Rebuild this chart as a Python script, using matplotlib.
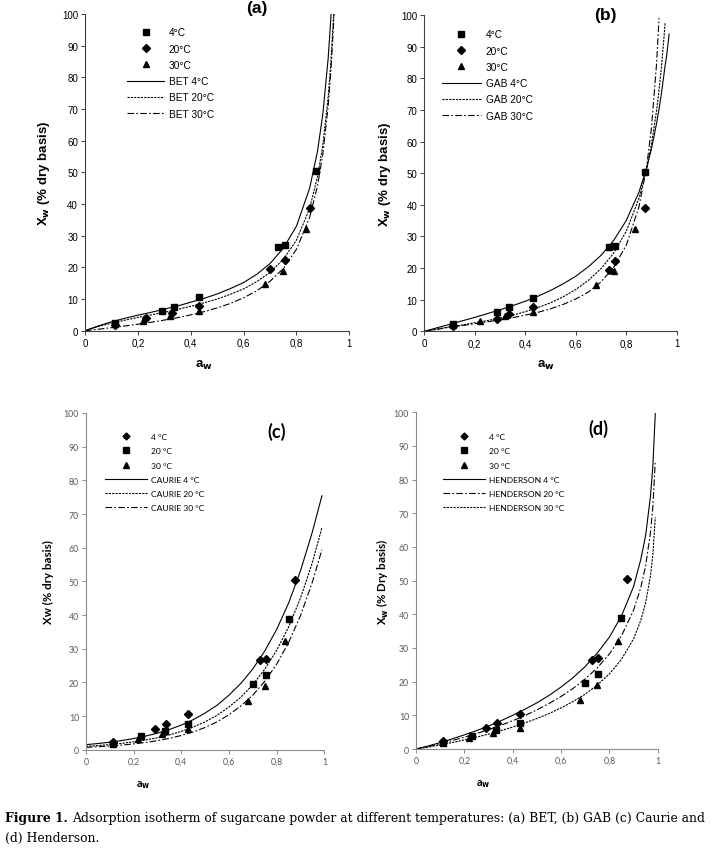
import matplotlib

matplotlib.use("Agg")
import matplotlib.pyplot as plt
from matplotlib.lines import Line2D

# ---- measured points (aw, Xw % dry basis) ----
aw_4 = [0.113, 0.29, 0.335, 0.43, 0.73, 0.755, 0.875]
xw_4 = [2.3, 6.1, 7.6, 10.5, 26.5, 27.0, 50.5]
aw_20 = [0.113, 0.23, 0.33, 0.43, 0.70, 0.755, 0.85]
xw_20 = [1.8, 4.0, 5.5, 7.7, 19.5, 22.2, 38.9]
aw_30 = [0.113, 0.22, 0.32, 0.43, 0.68, 0.75, 0.835]
xw_30 = [2.0, 3.2, 4.7, 6.2, 14.6, 19.0, 32.2]
# panel (b) shows the 20 C points at slightly different aw
aw_20b = [0.113, 0.29, 0.335, 0.43, 0.73, 0.755, 0.875]

# ---- model curves ----
aw_bet = [0, .05, .1, .15, .2, .25, .3, .35, .4, .45, .5, .55, .6, .65, .7, .75, .8, .85, .88, .9, .92, .93, .94, .945]
bet_4 = [0, 1.5, 2.8, 3.9, 4.9, 5.8, 6.8, 7.8, 9.0, 10.2, 11.6, 13.3, 15.2, 17.8, 21.2, 26.0, 33.0, 45.0, 56.8, 68.5, 86.0, 98.5, 115, 126]
bet_20 = [0, 1.3, 2.4, 3.3, 4.2, 5.0, 5.8, 6.7, 7.7, 8.8, 10.0, 11.5, 13.2, 15.5, 18.4, 22.5, 28.6, 38.6, 48.7, 58.7, 73.7, 84.4, 98.7, 108]
bet_30 = [0, 0.46, 0.95, 1.48, 2.05, 2.67, 3.35, 4.12, 5.0, 6.0, 7.2, 8.6, 10.4, 12.6, 15.6, 19.6, 25.7, 35.8, 45.8, 55.9, 70.9, 81.6, 95.9, 105]

aw_gab = [0, .05, .1, .15, .2, .25, .3, .35, .4, .45, .5, .55, .6, .65, .7, .75, .8, .85, .88, .9, .92, .93, .94, .95, .954, .96, .97]
gab_4 = [0, 1.1, 2.2, 3.3, 4.4, 5.6, 6.8, 8.1, 9.5, 11.1, 12.9, 15.0, 17.4, 20.4, 24.0, 28.7, 35.0, 43.9, 51.4, 57.7, 65.6, 70.3, 75.5, 81.5, 84.0, 87.0, 94.0]
gab_20 = [0, 0.7, 1.4, 2.0, 2.7, 3.4, 4.2, 5.1, 6.2, 7.5, 9.0, 10.9, 13.2, 16.1, 19.8, 24.7, 31.6, 41.9, 51.0, 59.1, 69.6, 76.3, 84.0, 93.2, 97.5, None, None]
gab_30 = [0, 0.6, 1.3, 1.8, 2.4, 3.0, 3.6, 4.3, 5.1, 6.0, 7.1, 8.5, 10.2, 12.4, 15.6, 20.2, 27.2, 39.2, 51.5, 64.3, 84.3, 99.1, None, None, None, None, None]

aw_cau = [0, .05, .1, .15, .2, .25, .3, .35, .4, .45, .5, .55, .6, .65, .7, .75, .8, .85, .9, .95, .99]
cau_4 = [1.5, 1.83, 2.23, 2.72, 3.31, 4.04, 4.92, 6.0, 7.31, 8.91, 10.9, 13.2, 16.2, 19.7, 24.0, 29.3, 35.7, 43.5, 53.1, 64.7, 75.4]
cau_20 = [1.0, 1.24, 1.53, 1.89, 2.33, 2.88, 3.56, 4.40, 5.43, 6.71, 8.29, 10.2, 12.7, 15.6, 19.3, 23.9, 29.5, 36.4, 45.0, 55.6, 65.9]
cau_30 = [0.7, 0.88, 1.10, 1.37, 1.72, 2.15, 2.69, 3.37, 4.22, 5.28, 6.61, 8.27, 10.4, 13.0, 16.2, 20.3, 25.4, 31.8, 39.8, 49.8, 59.4]

aw_hen = [0, .05, .1, .15, .2, .25, .3, .35, .4, .45, .5, .55, .6, .65, .7, .75, .8, .85, .9, .93, .95, .97, .98, .99]
hen_4 = [0, 0.9, 1.9, 3.0, 4.2, 5.45, 6.8, 8.35, 10.0, 11.8, 13.7, 15.9, 18.4, 21.2, 24.5, 28.5, 33.2, 39.5, 48.2, 56.3, 63.4, 75.0, 84.1, 99.6]
hen_20 = [0, 0.74, 1.58, 2.50, 3.50, 4.58, 5.74, 7.01, 8.39, 9.91, 11.6, 13.5, 15.6, 18.0, 20.8, 24.1, 28.2, 33.6, 41.2, 47.9, 54.4, 64.2, 72.0, 85.6]
hen_30 = [0, 0.55, 1.20, 1.91, 2.68, 3.52, 4.43, 5.43, 6.52, 7.72, 9.04, 10.5, 12.2, 14.1, 16.3, 19.0, 22.3, 26.6, 32.7, 38.2, 43.4, 51.4, 57.8, 68.8]

xticks = [0, 0.2, 0.4, 0.6, 0.8, 1.0]
xtick_labels = ["0", "0,2", "0,4", "0,6", "0,8", "1"]
yticks = list(range(0, 101, 10))

SOLID = "-"
DOTTED = (0, (2, 1))
DASHDOT = (0, (6, 2, 1.5, 2))
W, H = 716, 853


def rect(left, top, right, bottom):
    return [left / W, 1 - bottom / H, (right - left) / W, (bottom - top) / H]


def clean(xs, ys):
    pairs = [(x, y) for x, y in zip(xs, ys) if y is not None]
    return [p[0] for p in pairs], [p[1] for p in pairs]


def panel(fig, box, font, tick_color, spine_color, tick_size):
    ax = fig.add_axes(box)
    ax.set_xlim(0, 1)
    ax.set_ylim(0, 100)
    for s in ("top", "right"):
        ax.spines[s].set_visible(False)
    for s in ("left", "bottom"):
        ax.spines[s].set_color(spine_color)
        ax.spines[s].set_linewidth(0.8)
    ax.set_xticks(xticks)
    ax.set_xticklabels(xtick_labels)
    ax.set_yticks(yticks)
    ax.tick_params(direction="out", length=3, width=0.7, color=spine_color,
                   labelsize=tick_size, labelcolor=tick_color, pad=2)
    for lab in ax.get_xticklabels() + ax.get_yticklabels():
        lab.set_fontfamily(font)
    return ax


fig = plt.figure(figsize=(W / 100, H / 100), dpi=100)

# ---------------- (a) BET ----------------
ax = panel(fig, rect(85, 15, 349.3, 331.7), "Liberation Sans", "black", "#404040", 7)
ax.plot(aw_bet, bet_4, color="black", lw=0.8, ls=SOLID)
ax.plot(aw_bet, bet_20, color="black", lw=0.8, ls=DOTTED)
ax.plot(aw_bet, bet_30, color="black", lw=0.8, ls=DASHDOT)
ax.plot(aw_4, xw_4, "s", color="black", ms=4.5, ls="none")
ax.plot(aw_20, xw_20, "D", color="black", ms=3.8, ls="none")
ax.plot(aw_30, xw_30, "^", color="black", ms=4.5, ls="none")
ax.set_xlabel("a$_\\mathbf{w}$", fontsize=9.5, fontweight="bold", family="Liberation Sans")
ax.set_ylabel("X$_\\mathbf{w}$ (% dry basis)", fontsize=9.5, fontweight="bold", family="Liberation Sans")
ax.yaxis.set_label_coords(-0.125, 0.5)
ax.xaxis.set_label_coords(0.45, -0.085)
ax.text(0.65, 102.0, "(a)", fontsize=12.5, fontweight="bold", family="Liberation Sans",
        ha="center", va="center", clip_on=False)
handles = [
    Line2D([], [], marker="s", color="black", ms=4.5, ls="none"),
    Line2D([], [], marker="D", color="black", ms=3.8, ls="none"),
    Line2D([], [], marker="^", color="black", ms=4.5, ls="none"),
    Line2D([], [], color="black", lw=0.8, ls=SOLID),
    Line2D([], [], color="black", lw=0.8, ls=DOTTED),
    Line2D([], [], color="black", lw=0.8, ls=DASHDOT),
]
ax.legend(handles, ["4°C", "20°C", "30°C", "BET 4°C", "BET 20°C", "BET 30°C"],
          loc="upper left", bbox_to_anchor=(0.158, 0.958), frameon=False,
          borderpad=0, borderaxespad=0, handlelength=3.7, handletextpad=0.45,
          labelspacing=0.62, prop={"family": "Liberation Sans", "size": 7.3})

# ---------------- (b) GAB ----------------
ax = panel(fig, rect(424.3, 16, 676.7, 332.3), "Liberation Sans", "black", "#404040", 7)
ax.plot(*clean(aw_gab, gab_4), color="black", lw=0.8, ls=SOLID)
ax.plot(*clean(aw_gab, gab_20), color="black", lw=0.8, ls=DOTTED)
ax.plot(*clean(aw_gab, gab_30), color="black", lw=0.8, ls=DASHDOT)
ax.plot(aw_4, xw_4, "s", color="black", ms=4.5, ls="none")
ax.plot(aw_20b, xw_20, "D", color="black", ms=3.8, ls="none")
ax.plot(aw_30, xw_30, "^", color="black", ms=4.5, ls="none")
ax.set_xlabel("a$_\\mathbf{w}$", fontsize=9.5, fontweight="bold", family="Liberation Sans")
ax.set_ylabel("X$_\\mathbf{w}$ (% dry basis)", fontsize=9.5, fontweight="bold", family="Liberation Sans")
ax.yaxis.set_label_coords(-0.125, 0.5)
ax.xaxis.set_label_coords(0.48, -0.085)
ax.text(0.716, 100.3, "(b)", fontsize=12.5, fontweight="bold", family="Liberation Sans",
        ha="center", va="center", clip_on=False)
ax.legend(handles, ["4°C", "20°C", "30°C", "GAB 4°C", "GAB 20°C", "GAB 30°C"],
          loc="upper left", bbox_to_anchor=(0.069, 0.955), frameon=False,
          borderpad=0, borderaxespad=0, handlelength=3.9, handletextpad=0.45,
          labelspacing=0.62, prop={"family": "Liberation Sans", "size": 7.3})

# ---------------- (c) Caurie ----------------
grey = "#595959"
ax = panel(fig, rect(86, 414, 324.3, 750.7), "Lato", grey, "#8c8c8c", 6.3)
ax.plot(aw_cau, cau_4, color="black", lw=0.8, ls=SOLID)
ax.plot(aw_cau, cau_20, color="black", lw=0.8, ls=DOTTED)
ax.plot(aw_cau, cau_30, color="black", lw=0.8, ls=DASHDOT)
ax.plot(aw_4, xw_4, "D", color="black", ms=3.8, ls="none")
ax.plot(aw_20, xw_20, "s", color="black", ms=4.5, ls="none")
ax.plot(aw_30, xw_30, "^", color="black", ms=4.5, ls="none")
ax.set_xlabel("a$_\\mathbf{w}$", fontsize=7.8, fontweight="bold", family="Lato")
ax.set_ylabel("Xw (% dry basis)", fontsize=8.3, fontweight="bold", family="Lato")
ax.yaxis.set_label_coords(-0.135, 0.5)
ax.xaxis.set_label_coords(0.24, -0.085)
ax.text(0.80, 94.7, "(c)", fontsize=13, fontweight="bold", family="Lato",
        ha="center", va="center")
handles_cd = [
    Line2D([], [], marker="D", color="black", ms=3.5, ls="none"),
    Line2D([], [], marker="s", color="black", ms=4.2, ls="none"),
    Line2D([], [], marker="^", color="black", ms=4.2, ls="none"),
    Line2D([], [], color="black", lw=0.8, ls=SOLID),
    Line2D([], [], color="black", lw=0.8, ls=DOTTED),
    Line2D([], [], color="black", lw=0.8, ls=DASHDOT),
]
ax.legend(handles_cd, ["4 °C", "20 °C", "30 °C", "CAURIE 4 °C", "CAURIE 20 °C", "CAURIE 30 °C"],
          loc="upper left", bbox_to_anchor=(0.080, 0.940), frameon=False,
          borderpad=0, borderaxespad=0, handlelength=4.9, handletextpad=0.55,
          labelspacing=0.85, prop={"family": "Lato", "size": 6.1})

# ---------------- (d) Henderson ----------------
ax = panel(fig, rect(416, 413.3, 657.7, 750), "Lato", grey, "#8c8c8c", 6.3)
ax.plot(aw_hen, hen_4, color="black", lw=0.8, ls=SOLID)
ax.plot(aw_hen, hen_20, color="black", lw=0.8, ls=DASHDOT)
ax.plot(aw_hen, hen_30, color="black", lw=0.8, ls=DOTTED)
ax.plot(aw_4, xw_4, "D", color="black", ms=3.8, ls="none")
ax.plot(aw_20, xw_20, "s", color="black", ms=4.5, ls="none")
ax.plot(aw_30, xw_30, "^", color="black", ms=4.5, ls="none")
ax.set_xlabel("a$_\\mathbf{w}$", fontsize=7.8, fontweight="bold", family="Lato")
ax.set_ylabel("X$_\\mathbf{w}$ (% Dry basis)", fontsize=8.3, fontweight="bold", family="Lato")
ax.yaxis.set_label_coords(-0.105, 0.5)
ax.xaxis.set_label_coords(0.28, -0.085)
ax.text(0.754, 95.5, "(d)", fontsize=13, fontweight="bold", family="Lato",
        ha="center", va="center")
handles_d = [handles_cd[0], handles_cd[1], handles_cd[2], handles_cd[3],
             Line2D([], [], color="black", lw=0.8, ls=DASHDOT),
             Line2D([], [], color="black", lw=0.8, ls=DOTTED)]
ax.legend(handles_d, ["4 °C", "20 °C", "30 °C", "HENDERSON 4 °C", "HENDERSON 20 °C", "HENDERSON 30 °C"],
          loc="upper left", bbox_to_anchor=(0.113, 0.938), frameon=False,
          borderpad=0, borderaxespad=0, handlelength=4.9, handletextpad=0.55,
          labelspacing=0.85, prop={"family": "Lato", "size": 6.1})

# ---------------- caption ----------------
cap_font = {"family": "DejaVu Serif", "size": 8.95}
renderer = fig.canvas.get_renderer()
t = fig.text(5 / W, 1 - 822 / H, "Figure 1.", fontweight="bold", va="baseline", **cap_font)
bb = t.get_window_extent(renderer)
fig.text(bb.x1 / W + 4 / W, 1 - 822 / H,
         "Adsorption isotherm of sugarcane powder at different temperatures: (a) BET, (b) GAB (c) Caurie and",
         va="baseline", **cap_font)
fig.text(5 / W, 1 - 842 / H, "(d) Henderson.", va="baseline", **cap_font)

fig.savefig("out.png", dpi=100)
